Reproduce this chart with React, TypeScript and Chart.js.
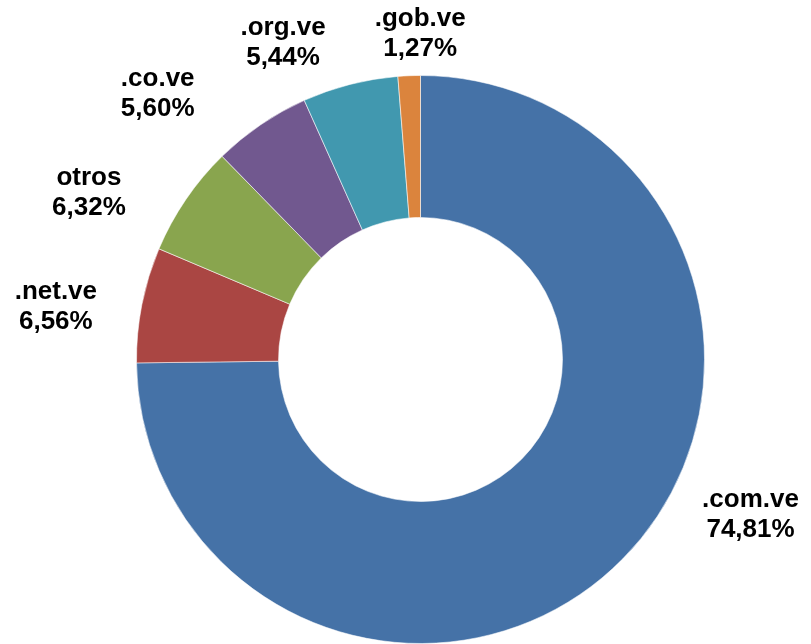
import React, { useEffect, useRef } from "react";
import { Chart, registerables } from "chart.js";

Chart.register(...registerables);

const categories = [".com.ve", ".net.ve", "otros", ".co.ve", ".org.ve", ".gob.ve"];
const shares = [74.81, 6.56, 6.32, 5.6, 5.44, 1.27];
const percentLabels = ["74,81%", "6,56%", "6,32%", "5,60%", "5,44%", "1,27%"];
const sliceColors = ["#4572A7", "#AA4643", "#89A54E", "#71588F", "#4198AF", "#DB843D"];

// label nudges relative to the outer edge point at each slice's mid-angle
const labelNudge: [number, number][] = [
  [128, -37],
  [-86, 9],
  [-97, 1],
  [-103, -24],
  [-67, -34],
  [11, -35],
];

const labelPlugin = {
  id: "outerLabels",
  afterDatasetsDraw(chart: any) {
    const ctx = chart.ctx;
    const meta = chart.getDatasetMeta(0);
    ctx.save();
    ctx.fillStyle = "#000000";
    ctx.font = "bold 26px 'Liberation Sans', Arial, sans-serif";
    ctx.textAlign = "center";
    ctx.textBaseline = "alphabetic";
    meta.data.forEach((arc: any, i: number) => {
      const p = arc.getProps(["x", "y", "startAngle", "endAngle", "outerRadius"], true);
      const mid = (p.startAngle + p.endAngle) / 2;
      const ax = p.x + Math.cos(mid) * p.outerRadius;
      const ay = p.y + Math.sin(mid) * p.outerRadius;
      const [dx, dy] = labelNudge[i];
      const lx = ax + dx;
      const ly = ay + dy;
      ctx.fillText(categories[i], lx, ly - 15);
      ctx.fillText(percentLabels[i], lx, ly + 15);
    });
    ctx.restore();
  },
};

export default function App() {
  const ref = useRef<HTMLCanvasElement | null>(null);
  useEffect(() => {
    if (!ref.current) return;
    const chart = new Chart(ref.current, {
      type: "doughnut",
      data: {
        labels: categories,
        datasets: [
          {
            data: shares,
            backgroundColor: sliceColors,
            borderColor: "rgba(255,255,255,0.55)",
            borderWidth: 1,
          },
        ],
      },
      options: {
        responsive: false,
        animation: false,
        cutout: "50%",
        layout: { padding: { left: 136, top: 75, right: 106, bottom: 0 } },
        plugins: {
          legend: { display: false },
          tooltip: { enabled: false },
        },
      },
      plugins: [labelPlugin],
    });
    return () => chart.destroy();
  }, []);
  return (
    <div style={{ position: "absolute", left: 0, top: 0, width: 811, height: 644, background: "#fff" }}>
      <canvas ref={ref} width={811} height={644} style={{ display: "block" }} />
    </div>
  );
}
